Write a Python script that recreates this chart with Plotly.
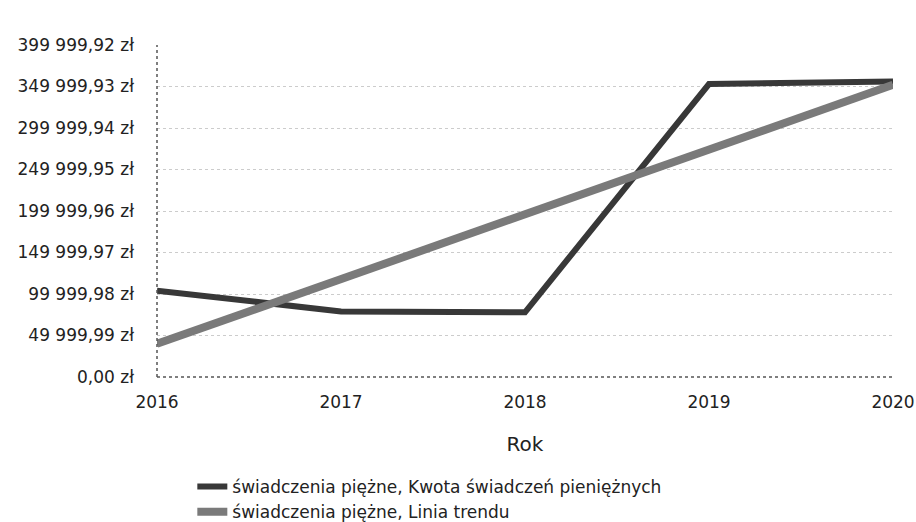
import plotly.graph_objects as go

years = [2016, 2017, 2018, 2019, 2020]
kwota = [104000, 79000, 78000, 353000, 356000]
trend = [40000, 118000, 196000, 274000, 352000]

y_tickvals = [0, 49999.99, 99999.98, 149999.97, 199999.96, 249999.95, 299999.94, 349999.93, 399999.92]
y_ticktext = ['0,00 zł', '49 999,99 zł', '99 999,98 zł', '149 999,97 zł', '199 999,96 zł',
              '249 999,95 zł', '299 999,94 zł', '349 999,93 zł', '399 999,92 zł']

series_names = ['świadczenia piężne, Kwota świadczeń pieniężnych',
                'świadczenia piężne, Linia trendu']

fig = go.Figure()
fig.add_trace(go.Scatter(x=years, y=kwota, mode='lines', name=series_names[0],
                         line={'color': '#383838', 'width': 6}))
fig.add_trace(go.Scatter(x=years, y=trend, mode='lines', name=series_names[1],
                         line={'color': '#7a7a7a', 'width': 8}))

# dotted axis lines like in the scan
fig.add_shape(type='line', xref='paper', yref='paper', x0=0, x1=0, y0=0, y1=1,
              line={'color': '#555555', 'width': 1.5, 'dash': 'dot'})
fig.add_shape(type='line', xref='paper', yref='paper', x0=0, x1=1, y0=0, y1=0,
              line={'color': '#555555', 'width': 1.5, 'dash': 'dot'})

fig.update_layout(
    width=916,
    height=522,
    margin={'l': 157, 'r': 23, 't': 45, 'b': 145, 'autoexpand': False},
    paper_bgcolor='white',
    plot_bgcolor='white',
    font={'family': 'DejaVu Sans', 'size': 17, 'color': '#222222'},
    showlegend=True,
    legend={
        'x': 0.048,
        'y': 0.1015,
        'yref': 'container',
        'xanchor': 'left',
        'yanchor': 'top',
        'orientation': 'v',
        'font': {'size': 17},
        'tracegroupgap': 0,
        'itemwidth': 30,
    },
    xaxis={
        'range': [2016, 2020],
        'tickvals': years,
        'ticktext': [str(y) for y in years],
        'showgrid': False,
        'zeroline': False,
        'showline': False,
        'ticklabelstandoff': 13,
        'ticklabeloverflow': 'allow',
        'title': {'text': 'Rok', 'standoff': 25},
    },
    yaxis={
        'range': [0, 399999.92],
        'tickvals': y_tickvals,
        'ticktext': y_ticktext,
        'showgrid': True,
        'gridcolor': '#cccccc',
        'griddash': 'dot',
        'zeroline': False,
        'showline': False,
        'ticklabelstandoff': 22,
    },
)

# drop the default page margin so the figure fills the window exactly
fig.write_html('out.html', config={'displayModeBar': False},
               post_script="document.body.style.margin = '0';")
